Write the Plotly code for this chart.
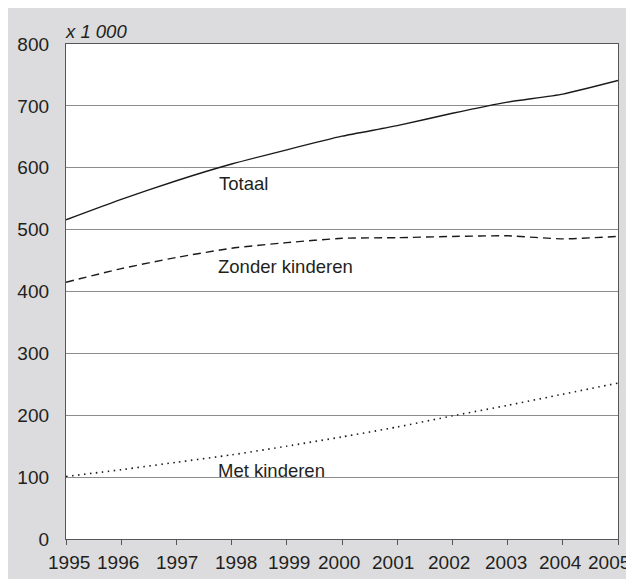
import plotly.graph_objects as go

years = [1995, 1996, 1997, 1998, 1999, 2000, 2001, 2002, 2003, 2004, 2005]
year_labels = ["1995", "1996", "1997", "1998", "1999", "2000", "2001", "2002", "2003", "2004", "2005"]
totaal = [516, 549, 579, 606, 629, 651, 668, 688, 706, 719, 741]
zonder_kinderen = [415, 437, 455, 470, 479, 486, 487, 489, 490, 485, 489]
met_kinderen = [101, 112, 124, 136, 150, 165, 181, 199, 216, 234, 252]
y_ticks = [0, 100, 200, 300, 400, 500, 600, 700, 800]

FONT = "Liberation Sans, Arial, sans-serif"
TXT = "#231f20"
TICK_SIZE = 19
LABEL_SIZE = 18.5

# small horizontal nudges of the year labels (pixels), as typeset in the reference
label_nudge = [3, -3, 1, 4, 2, -3, -4, -3, -2, -2, -9]

fig = go.Figure()
fig.add_trace(go.Scatter(x=years, y=totaal, mode="lines", name="Totaal",
                         line=dict(color="#1a1a1a", width=1.4, shape="spline", smoothing=0.5)))
fig.add_trace(go.Scatter(x=years, y=zonder_kinderen, mode="lines", name="Zonder kinderen",
                         line=dict(color="#1a1a1a", width=1.4, dash="8px,5px", shape="spline", smoothing=0.5)))
fig.add_trace(go.Scatter(x=years, y=met_kinderen, mode="lines", name="Met kinderen",
                         line=dict(color="#1a1a1a", width=1.6, dash="1.5px,4.5px", shape="spline", smoothing=0.5)))

annotations = [
    dict(text="<i>x 1 000</i>", xref="paper", yref="paper", x=0, y=1,
         xanchor="left", yanchor="bottom", yshift=0, xshift=-3, showarrow=False,
         font=dict(size=LABEL_SIZE, color=TXT)),
    dict(text="Totaal", x=1997.74, y=575, xanchor="left", yanchor="middle",
         showarrow=False, font=dict(size=LABEL_SIZE, color=TXT)),
    dict(text="Zonder kinderen", x=1997.72, y=440, xanchor="left", yanchor="middle",
         showarrow=False, font=dict(size=LABEL_SIZE, color=TXT)),
    dict(text="Met kinderen", x=1997.72, y=111, xanchor="left", yanchor="middle",
         showarrow=False, font=dict(size=LABEL_SIZE, color=TXT)),
]
for yr, lab, nudge in zip(years, year_labels, label_nudge):
    annotations.append(dict(text=lab, x=yr, xref="x", y=0, yref="paper",
                            xanchor="center", yanchor="middle", xshift=nudge, yshift=-23,
                            showarrow=False, font=dict(size=TICK_SIZE, color=TXT)))

fig.update_layout(
    width=634, height=579,
    margin=dict(l=58, r=24, t=36, b=48, pad=0, autoexpand=False),
    paper_bgcolor="#dcdcde",
    plot_bgcolor="white",
    showlegend=False,
    font=dict(family=FONT, size=TICK_SIZE, color=TXT),
    xaxis=dict(range=[1995, 2005], tickmode="array", tickvals=years,
               showticklabels=False, automargin=False,
               showgrid=False, zeroline=False,
               showline=True, linecolor="#555555", linewidth=1.3, mirror=True,
               ticks="outside", ticklen=5, tickcolor="#555555", tickwidth=1.2),
    yaxis=dict(range=[0, 800], tickmode="array", tickvals=y_ticks, automargin=False,
               showgrid=True, gridcolor="#8c8c8c", gridwidth=1, zeroline=False,
               showline=True, linecolor="#555555", linewidth=1.3, mirror=True,
               ticks="", ticklabelstandoff=12,
               tickfont=dict(size=TICK_SIZE, color=TXT)),
    annotations=annotations,
)

fig.write_html("out.html")
